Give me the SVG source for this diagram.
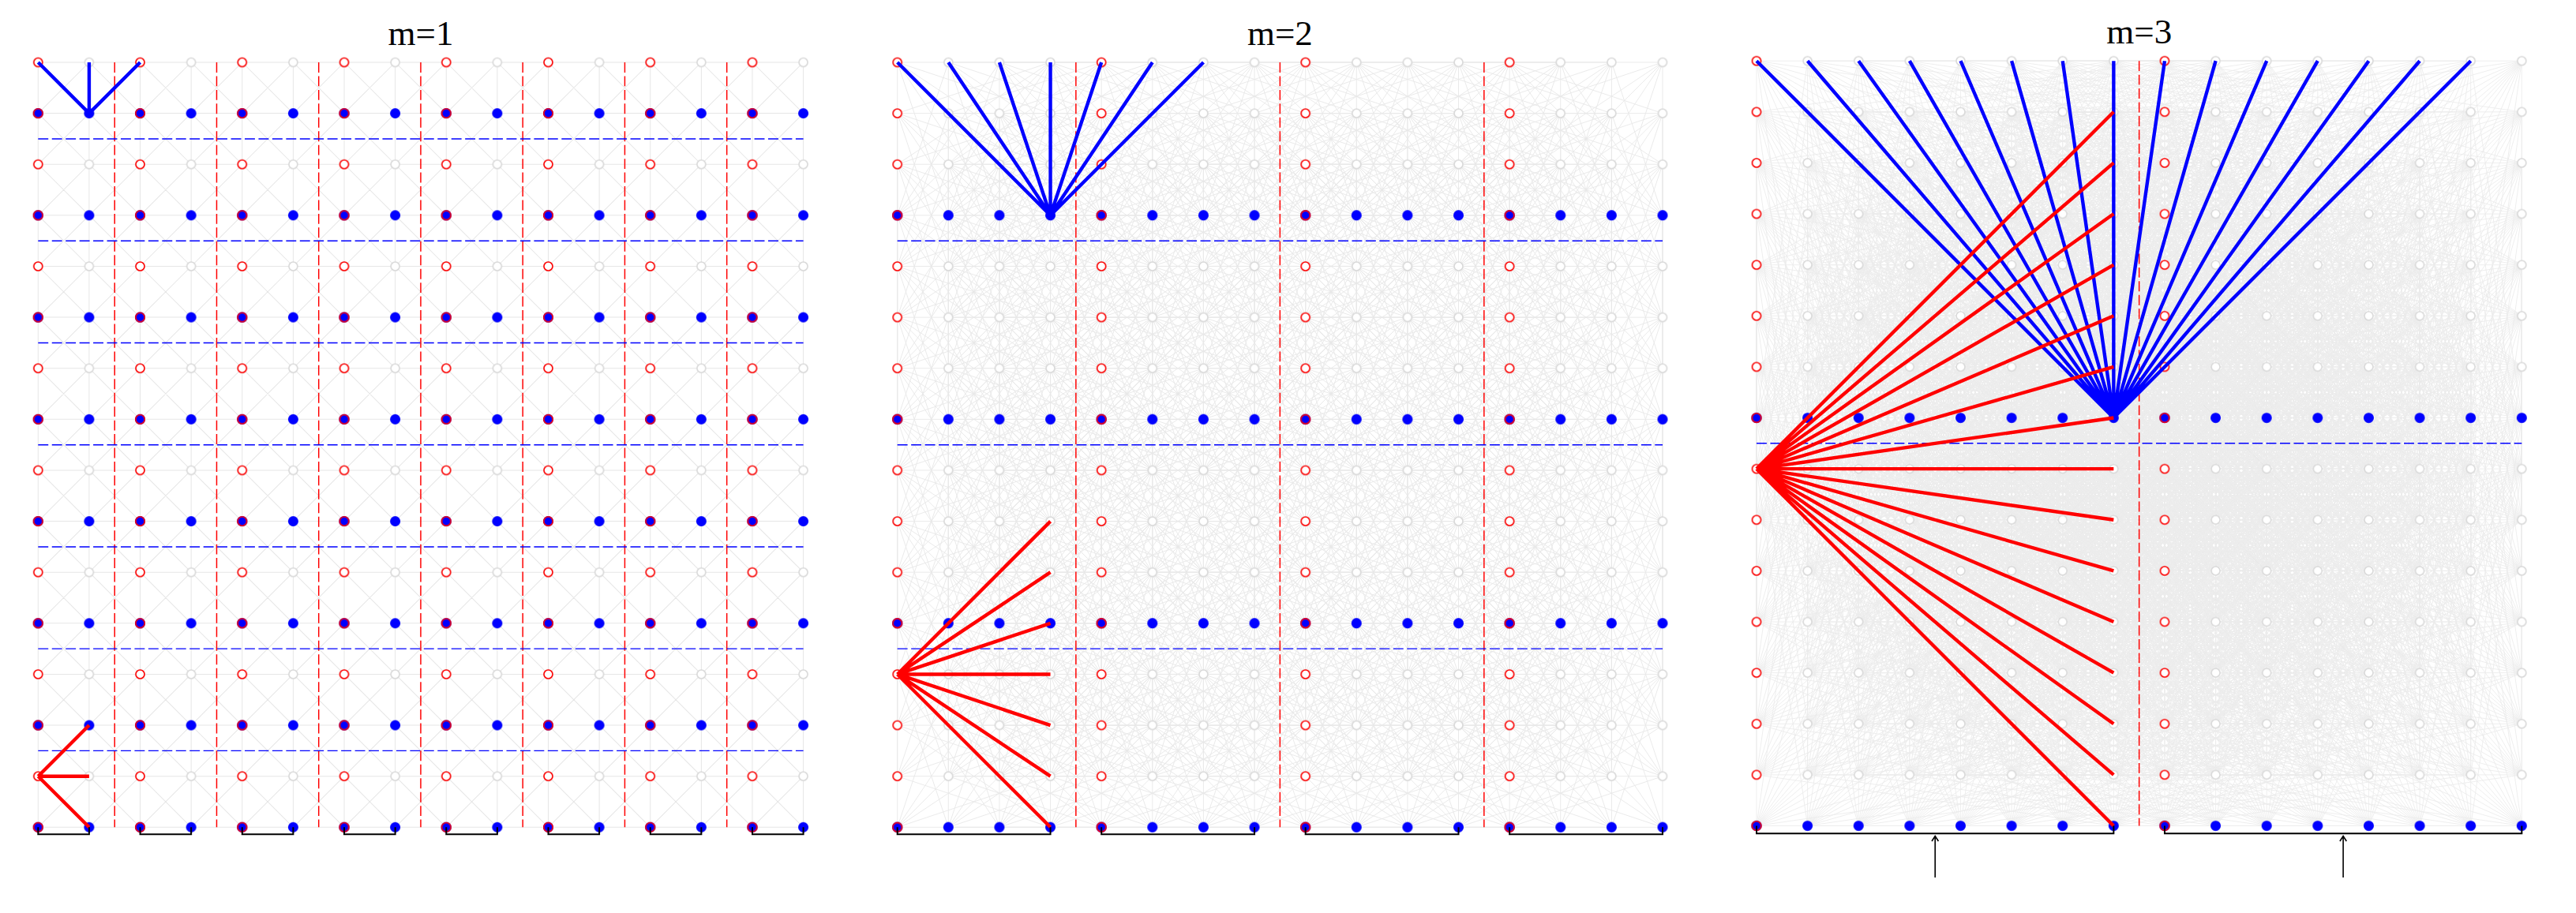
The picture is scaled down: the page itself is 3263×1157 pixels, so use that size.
<svg xmlns="http://www.w3.org/2000/svg" xmlns:xlink="http://www.w3.org/1999/xlink" width="3263" height="1157" viewBox="0 0 3263 1157">
<style>
.e{fill:none;stroke:#e6e6e6;stroke-width:0.0155}
.e2{fill:none;stroke:#e8e8e8;stroke-width:0.0145}
.e3{fill:none;stroke:#ebebeb;stroke-width:0.0135}
.rd{fill:none;stroke:#ff0000;stroke-width:0.023;stroke-dasharray:0.2 0.07}
.bd{fill:none;stroke:#0000ff;stroke-width:0.023;stroke-dasharray:0.2 0.07}
.hb{fill:none;stroke:#0000ff;stroke-width:0.068}
.hr{fill:none;stroke:#ff0000;stroke-width:0.068}
.br{fill:none;stroke:#000;stroke-width:0.031}
.t{font-family:"Liberation Serif","Times New Roman",serif;font-size:45px;text-anchor:middle;fill:#000}
</style>
<defs>
<pattern id="ng" patternUnits="userSpaceOnUse" x="-.5" y="-.5" width="1" height="1"><circle cx=".5" cy=".5" r=".085" fill="#fff" stroke="#d8d8d8" stroke-width=".025"/></pattern>
<pattern id="nr2" patternUnits="userSpaceOnUse" x="-.5" y="-.5" width="2" height="1"><circle cx=".5" cy=".5" r=".085" fill="#fff" stroke="#f00" stroke-width=".025"/></pattern>
<pattern id="nb2" patternUnits="userSpaceOnUse" x="-.5" y="-.5" width="1" height="2"><circle cx=".5" cy="1.5" r=".088" fill="#00f" stroke="#00f" stroke-width=".025"/></pattern>
<pattern id="nc2" patternUnits="userSpaceOnUse" x="-.5" y="-.5" width="2" height="2"><circle cx=".5" cy="1.5" r=".088" fill="#00f" stroke="#f00" stroke-width=".025"/></pattern>
<pattern id="nr4" patternUnits="userSpaceOnUse" x="-.5" y="-.5" width="4" height="1"><circle cx=".5" cy=".5" r=".085" fill="#fff" stroke="#f00" stroke-width=".025"/></pattern>
<pattern id="nb4" patternUnits="userSpaceOnUse" x="-.5" y="-.5" width="1" height="4"><circle cx=".5" cy="3.5" r=".088" fill="#00f" stroke="#00f" stroke-width=".025"/></pattern>
<pattern id="nc4" patternUnits="userSpaceOnUse" x="-.5" y="-.5" width="4" height="4"><circle cx=".5" cy="3.5" r=".088" fill="#00f" stroke="#f00" stroke-width=".025"/></pattern>
<pattern id="nr8" patternUnits="userSpaceOnUse" x="-.5" y="-.5" width="8" height="1"><circle cx=".5" cy=".5" r=".085" fill="#fff" stroke="#f00" stroke-width=".025"/></pattern>
<pattern id="nb8" patternUnits="userSpaceOnUse" x="-.5" y="-.5" width="1" height="8"><circle cx=".5" cy="7.5" r=".088" fill="#00f" stroke="#00f" stroke-width=".025"/></pattern>
<pattern id="nc8" patternUnits="userSpaceOnUse" x="-.5" y="-.5" width="8" height="8"><circle cx=".5" cy="7.5" r=".088" fill="#00f" stroke="#f00" stroke-width=".025"/></pattern>

<path id="e1d" d="M0 0l1 1M1 0l1 1M2 0l1 1M3 0l1 1M4 0l1 1M5 0l1 1M6 0l1 1M7 0l1 1M8 0l1 1M9 0l1 1M10 0l1 1M11 0l1 1M12 0l1 1M13 0l1 1M14 0l1 1M1 0l-1 1M2 0l-1 1M3 0l-1 1M4 0l-1 1M5 0l-1 1M6 0l-1 1M7 0l-1 1M8 0l-1 1M9 0l-1 1M10 0l-1 1M11 0l-1 1M12 0l-1 1M13 0l-1 1M14 0l-1 1M15 0l-1 1"/>
<path id="e1i" d="M0 0v1M1 0v1M2 0v1M3 0v1M4 0v1M5 0v1M6 0v1M7 0v1M8 0v1M9 0v1M10 0v1M11 0v1M12 0v1M13 0v1M14 0v1M15 0v1"/>
<g id="E1i"><use href="#e1i"/><use href="#e1i" y="1"/><use href="#e1i" y="2"/><use href="#e1i" y="3"/><use href="#e1i" y="4"/><use href="#e1i" y="5"/><use href="#e1i" y="6"/><use href="#e1i" y="7"/><use href="#e1i" y="8"/><use href="#e1i" y="9"/><use href="#e1i" y="10"/><use href="#e1i" y="11"/><use href="#e1i" y="12"/><use href="#e1i" y="13"/><use href="#e1i" y="14"/></g>
<g id="E1d"><use href="#e1d"/><use href="#e1d" y="1"/><use href="#e1d" y="2"/><use href="#e1d" y="3"/><use href="#e1d" y="4"/><use href="#e1d" y="5"/><use href="#e1d" y="6"/><use href="#e1d" y="7"/><use href="#e1d" y="8"/><use href="#e1d" y="9"/><use href="#e1d" y="10"/><use href="#e1d" y="11"/><use href="#e1d" y="12"/><use href="#e1d" y="13"/><use href="#e1d" y="14"/></g>

<path id="e3d" d="M0 0l3 3M1 0l3 3M2 0l3 3M3 0l3 3M4 0l3 3M5 0l3 3M6 0l3 3M7 0l3 3M8 0l3 3M9 0l3 3M10 0l3 3M11 0l3 3M12 0l3 3M3 0l-3 3M4 0l-3 3M5 0l-3 3M6 0l-3 3M7 0l-3 3M8 0l-3 3M9 0l-3 3M10 0l-3 3M11 0l-3 3M12 0l-3 3M13 0l-3 3M14 0l-3 3M15 0l-3 3"/>
<path id="e3i" d="M2 0l-2 3M3 0l-2 3M4 0l-2 3M5 0l-2 3M6 0l-2 3M7 0l-2 3M8 0l-2 3M9 0l-2 3M10 0l-2 3M11 0l-2 3M12 0l-2 3M13 0l-2 3M14 0l-2 3M15 0l-2 3M1 0l-1 3M2 0l-1 3M3 0l-1 3M4 0l-1 3M5 0l-1 3M6 0l-1 3M7 0l-1 3M8 0l-1 3M9 0l-1 3M10 0l-1 3M11 0l-1 3M12 0l-1 3M13 0l-1 3M14 0l-1 3M15 0l-1 3M0 0v3M1 0v3M2 0v3M3 0v3M4 0v3M5 0v3M6 0v3M7 0v3M8 0v3M9 0v3M10 0v3M11 0v3M12 0v3M13 0v3M14 0v3M15 0v3M0 0l1 3M1 0l1 3M2 0l1 3M3 0l1 3M4 0l1 3M5 0l1 3M6 0l1 3M7 0l1 3M8 0l1 3M9 0l1 3M10 0l1 3M11 0l1 3M12 0l1 3M13 0l1 3M14 0l1 3M0 0l2 3M1 0l2 3M2 0l2 3M3 0l2 3M4 0l2 3M5 0l2 3M6 0l2 3M7 0l2 3M8 0l2 3M9 0l2 3M10 0l2 3M11 0l2 3M12 0l2 3M13 0l2 3"/>
<g id="E3i"><use href="#e3i"/><use href="#e3i" y="1"/><use href="#e3i" y="2"/><use href="#e3i" y="3"/><use href="#e3i" y="4"/><use href="#e3i" y="5"/><use href="#e3i" y="6"/><use href="#e3i" y="7"/><use href="#e3i" y="8"/><use href="#e3i" y="9"/><use href="#e3i" y="10"/><use href="#e3i" y="11"/><use href="#e3i" y="12"/></g>
<g id="E3d"><use href="#e3d"/><use href="#e3d" y="1"/><use href="#e3d" y="2"/><use href="#e3d" y="3"/><use href="#e3d" y="4"/><use href="#e3d" y="5"/><use href="#e3d" y="6"/><use href="#e3d" y="7"/><use href="#e3d" y="8"/><use href="#e3d" y="9"/><use href="#e3d" y="10"/><use href="#e3d" y="11"/><use href="#e3d" y="12"/></g>

<path id="e7d" d="M0 0l7 7M1 0l7 7M2 0l7 7M3 0l7 7M4 0l7 7M5 0l7 7M6 0l7 7M7 0l7 7M8 0l7 7M7 0l-7 7M8 0l-7 7M9 0l-7 7M10 0l-7 7M11 0l-7 7M12 0l-7 7M13 0l-7 7M14 0l-7 7M15 0l-7 7"/>
<path id="e7i" d="M6 0l-6 7M7 0l-6 7M8 0l-6 7M9 0l-6 7M10 0l-6 7M11 0l-6 7M12 0l-6 7M13 0l-6 7M14 0l-6 7M15 0l-6 7M5 0l-5 7M6 0l-5 7M7 0l-5 7M8 0l-5 7M9 0l-5 7M10 0l-5 7M11 0l-5 7M12 0l-5 7M13 0l-5 7M14 0l-5 7M15 0l-5 7M4 0l-4 7M5 0l-4 7M6 0l-4 7M7 0l-4 7M8 0l-4 7M9 0l-4 7M10 0l-4 7M11 0l-4 7M12 0l-4 7M13 0l-4 7M14 0l-4 7M15 0l-4 7M3 0l-3 7M4 0l-3 7M5 0l-3 7M6 0l-3 7M7 0l-3 7M8 0l-3 7M9 0l-3 7M10 0l-3 7M11 0l-3 7M12 0l-3 7M13 0l-3 7M14 0l-3 7M15 0l-3 7M2 0l-2 7M3 0l-2 7M4 0l-2 7M5 0l-2 7M6 0l-2 7M7 0l-2 7M8 0l-2 7M9 0l-2 7M10 0l-2 7M11 0l-2 7M12 0l-2 7M13 0l-2 7M14 0l-2 7M15 0l-2 7M1 0l-1 7M2 0l-1 7M3 0l-1 7M4 0l-1 7M5 0l-1 7M6 0l-1 7M7 0l-1 7M8 0l-1 7M9 0l-1 7M10 0l-1 7M11 0l-1 7M12 0l-1 7M13 0l-1 7M14 0l-1 7M15 0l-1 7M0 0v7M1 0v7M2 0v7M3 0v7M4 0v7M5 0v7M6 0v7M7 0v7M8 0v7M9 0v7M10 0v7M11 0v7M12 0v7M13 0v7M14 0v7M15 0v7M0 0l1 7M1 0l1 7M2 0l1 7M3 0l1 7M4 0l1 7M5 0l1 7M6 0l1 7M7 0l1 7M8 0l1 7M9 0l1 7M10 0l1 7M11 0l1 7M12 0l1 7M13 0l1 7M14 0l1 7M0 0l2 7M1 0l2 7M2 0l2 7M3 0l2 7M4 0l2 7M5 0l2 7M6 0l2 7M7 0l2 7M8 0l2 7M9 0l2 7M10 0l2 7M11 0l2 7M12 0l2 7M13 0l2 7M0 0l3 7M1 0l3 7M2 0l3 7M3 0l3 7M4 0l3 7M5 0l3 7M6 0l3 7M7 0l3 7M8 0l3 7M9 0l3 7M10 0l3 7M11 0l3 7M12 0l3 7M0 0l4 7M1 0l4 7M2 0l4 7M3 0l4 7M4 0l4 7M5 0l4 7M6 0l4 7M7 0l4 7M8 0l4 7M9 0l4 7M10 0l4 7M11 0l4 7M0 0l5 7M1 0l5 7M2 0l5 7M3 0l5 7M4 0l5 7M5 0l5 7M6 0l5 7M7 0l5 7M8 0l5 7M9 0l5 7M10 0l5 7M0 0l6 7M1 0l6 7M2 0l6 7M3 0l6 7M4 0l6 7M5 0l6 7M6 0l6 7M7 0l6 7M8 0l6 7M9 0l6 7"/>
<g id="E7i"><use href="#e7i"/><use href="#e7i" y="1"/><use href="#e7i" y="2"/><use href="#e7i" y="3"/><use href="#e7i" y="4"/><use href="#e7i" y="5"/><use href="#e7i" y="6"/><use href="#e7i" y="7"/><use href="#e7i" y="8"/></g>
<g id="E7d"><use href="#e7d"/><use href="#e7d" y="1"/><use href="#e7d" y="2"/><use href="#e7d" y="3"/><use href="#e7d" y="4"/><use href="#e7d" y="5"/><use href="#e7d" y="6"/><use href="#e7d" y="7"/><use href="#e7d" y="8"/></g>
</defs>

<rect width="3263" height="1157" fill="#fff"/>

<g id="titles" class="t">
<text x="533" y="57">m=1</text>
<text x="1621.4" y="57">m=2</text>
<text x="2709.7" y="55">m=3</text>
</g>

<g id="panel1" transform="translate(48.3 79) scale(64.62)">
<g id="edges1" class="e"><use href="#E1i"/><use href="#E1i" transform="matrix(0 1 1 0 0 0)"/><use href="#E1d"/></g>
<g id="dashes1"><path class="rd" d="M1.5 0V15M3.5 0V15M5.5 0V15M7.5 0V15M9.5 0V15M11.5 0V15M13.5 0V15"/><path class="bd" d="M0 1.5H15M0 3.5H15M0 5.5H15M0 7.5H15M0 9.5H15M0 11.5H15M0 13.5H15"/></g>
<g id="nodes1"><rect x="-.5" y="-.5" width="16" height="16" fill="url(#ng)"/><rect x="-.5" y="-.5" width="16" height="16" fill="url(#nr2)"/><rect x="-.5" y="-.5" width="16" height="16" fill="url(#nb2)"/><rect x="-.5" y="-.5" width="16" height="16" fill="url(#nc2)"/></g>
<g id="highlight1"><path class="hb" d="M1 1L0 0M1 1V0M1 1L2 0"/><path class="hr" d="M0 14L1 13M0 14H1M0 14L1 15"/></g>
<path id="brackets1" class="br" d="M0 15V15.14H1V15M2 15V15.14H3V15M4 15V15.14H5V15M6 15V15.14H7V15M8 15V15.14H9V15M10 15V15.14H11V15M12 15V15.14H13V15M14 15V15.14H15V15"/>
</g>

<g id="panel2" transform="translate(1136.7 79) scale(64.62)">
<g id="edges2" class="e2"><use href="#E3i"/><use href="#E3i" transform="matrix(0 1 1 0 0 0)"/><use href="#E3d"/></g>
<g id="dashes2"><path class="rd" d="M3.5 0V15M7.5 0V15M11.5 0V15"/><path class="bd" d="M0 3.5H15M0 7.5H15M0 11.5H15"/></g>
<g id="nodes2"><rect x="-.5" y="-.5" width="16" height="16" fill="url(#ng)"/><rect x="-.5" y="-.5" width="16" height="16" fill="url(#nr4)"/><rect x="-.5" y="-.5" width="16" height="16" fill="url(#nb4)"/><rect x="-.5" y="-.5" width="16" height="16" fill="url(#nc4)"/></g>
<g id="highlight2"><path class="hb" d="M3 3L0 0M3 3L1 0M3 3L2 0M3 3V0M3 3L4 0M3 3L5 0M3 3L6 0"/><path class="hr" d="M0 12L3 9M0 12L3 10M0 12L3 11M0 12H3M0 12L3 13M0 12L3 14M0 12L3 15"/></g>
<path id="brackets2" class="br" d="M0 15V15.14H3V15M4 15V15.14H7V15M8 15V15.14H11V15M12 15V15.14H15V15"/>
</g>

<g id="panel3" transform="translate(2225 77.2) scale(64.62)">
<g id="edges3" class="e3"><use href="#E7i"/><use href="#E7i" transform="matrix(0 1 1 0 0 0)"/><use href="#E7d"/></g>
<g id="dashes3"><path class="rd" d="M7.5 0V15"/><path class="bd" d="M0 7.5H15"/></g>
<g id="nodes3"><rect x="-.5" y="-.5" width="16" height="16" fill="url(#ng)"/><rect x="-.5" y="-.5" width="16" height="16" fill="url(#nr8)"/><rect x="-.5" y="-.5" width="16" height="16" fill="url(#nb8)"/><rect x="-.5" y="-.5" width="16" height="16" fill="url(#nc8)"/></g>
<g id="highlight3"><path class="hb" d="M7 7L0 0M7 7L1 0M7 7L2 0M7 7L3 0M7 7L4 0M7 7L5 0M7 7L6 0M7 7V0M7 7L8 0M7 7L9 0M7 7L10 0M7 7L11 0M7 7L12 0M7 7L13 0M7 7L14 0"/><path class="hr" d="M0 8L7 1M0 8L7 2M0 8L7 3M0 8L7 4M0 8L7 5M0 8L7 6M0 8L7 7M0 8H7M0 8L7 9M0 8L7 10M0 8L7 11M0 8L7 12M0 8L7 13M0 8L7 14M0 8L7 15"/></g>
<path id="brackets3" class="br" d="M0 15V15.15H7V15M8 15V15.15H15V15"/>
</g>

<g id="arrows" fill="none" stroke="#000" stroke-width="1.6">
<path d="M2451.2 1112V1060M2447 1066L2451.2 1059.5L2455.4 1066"/>
<path d="M2968.1 1112V1060M2963.9 1066L2968.1 1059.5L2972.3 1066"/>
</g>
</svg>
